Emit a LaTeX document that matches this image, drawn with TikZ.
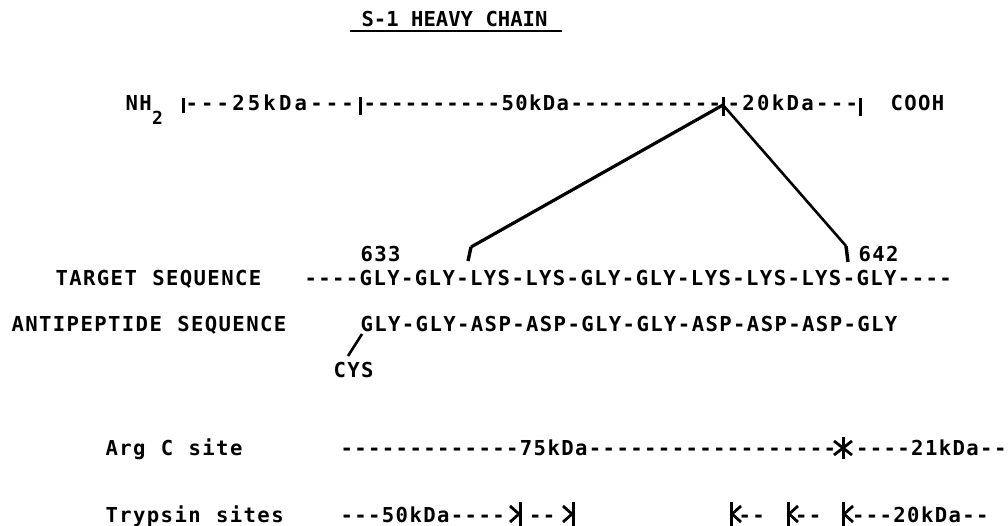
\documentclass[tikz,border=0pt]{standalone}
\usepackage{fontspec}
\newfontfamily\tw[LetterSpace=6.8,WordSpace={1.113,0,0},Ligatures=TeXOff]{DejaVu Sans Mono}
\newfontfamily\twa[LetterSpace=15.5,Ligatures=TeXOff]{DejaVu Sans Mono}
\newfontfamily\twc[LetterSpace=11.4,Ligatures=TeXOff]{DejaVu Sans Mono}
\newfontfamily\twt[Ligatures=TeXOff]{DejaVu Sans Mono}
\begin{document}
\begin{tikzpicture}[x=1pt,y=-1pt]
\tikzset{
  txt/.style={anchor=base west, inner sep=0pt, outer sep=0pt, font=\tw\fontsize{20.6}{24}\selectfont\bfseries},
  txta/.style={anchor=base west, inner sep=0pt, outer sep=0pt, font=\twa\fontsize{20.6}{24}\selectfont\bfseries},
  txtc/.style={anchor=base west, inner sep=0pt, outer sep=0pt, font=\twc\fontsize{20.6}{24}\selectfont\bfseries},
  subtxt/.style={anchor=base west, inner sep=0pt, outer sep=0pt, font=\tw\fontsize{18}{22}\selectfont\bfseries},
  titletxt/.style={anchor=base west, inner sep=0pt, outer sep=0pt, font=\twt\fontsize{20.6}{24}\selectfont\bfseries},
  tickmark/.style={line width=3pt},
  link/.style={line width=3.2pt, line join=round},
  linkb/.style={line width=2.6pt, line join=round},
  hook/.style={line width=3.4pt},
  arrowmark/.style={line width=2.8pt, line join=miter},
}
\useasboundingbox (0,0) rectangle (1008,526);
\fill[white] (0,0) rectangle (1008,526);

% title
\node[titletxt] (title) at (361.5,27) {S-1 HEAVY CHAIN};
\draw[line width=2pt] (350,31) -- (562,31);

% top row
\node[txt] (nh) at (125.5,111) {NH};
\node[subtxt] (two) at (152,125) {2};
\node[txta] (s25) at (185.5,111) {---25kDa---};
\node[txt] (s50) at (363.5,111) {----------50kDa-----------};
\node[txtc] (s20) at (727.5,111) {-20kDa---};
\node[txt] (cooh) at (890.5,111) {COOH};
\coordinate (n0) at (183,105);
\coordinate (n1) at (360,105);
\coordinate (apex) at (723,105);
\coordinate (n3) at (860,105);
\draw[tickmark] (183,98) -- (183,113);
\draw[tickmark] (360,97) -- (360,115);
\draw[tickmark] (723,97) -- (723,116);
\draw[tickmark] (860,98) -- (860,116);

% brackets to sequence
\coordinate (lend) at (471,247);
\coordinate (lfoot) at (468,261);
\coordinate (rend) at (846,246);
\coordinate (rfoot) at (848,262);
\draw[link] (apex) -- (lend);
\draw[hook] (lend) -- (lfoot);
\draw[linkb] (apex) -- (rend);
\draw[hook] (rend) -- (rfoot);

% sequences
\node[txt] (n633) at (360.5,262) {633};
\node[txt] (n642) at (858.5,262) {642};
\node[txt] (tlab) at (55.5,286) {TARGET SEQUENCE};
\node[txt] (tseq) at (304.5,286) {----GLY-GLY-LYS-LYS-GLY-GLY-LYS-LYS-LYS-GLY----};
\node[txt] (alab) at (11.5,331) {ANTIPEPTIDE SEQUENCE};
\node[txt] (aseq) at (360.5,331) {GLY-GLY-ASP-ASP-GLY-GLY-ASP-ASP-ASP-GLY};
\node[txt] (cys) at (333.5,377) {CYS};
\coordinate (cysa) at (362,334);
\coordinate (cysb) at (348,356);
\draw[line width=2.6pt] (cysa) -- (cysb);

% Arg C row
\node[txt] (arglab) at (105.5,455) {Arg C site};
\node[txt] (arg1) at (340.5,455) {-------------75kDa------------------};
\node[txt] (arg2) at (856,455) {----21kDa--};
\coordinate (ast) at (843,448);
\draw[line width=3pt] (843,437) -- (843,459);
\draw[line width=2.8pt] (834,441) -- (852,455);
\draw[line width=2.8pt] (834,455) -- (852,441);

% Trypsin row
\node[txt] (trlab) at (105.5,522) {Trypsin sites};
\node[txt] (tr1) at (340.5,522) {---50kDa----};
\node[txt] (tr2) at (529,522) {--};
\node[txt] (tr3) at (738.5,522) {--};
\node[txt] (tr4) at (795,522) {--};
\node[txt] (tr5) at (852,522) {---20kDa--};
% right-pointing arrows
\foreach \xx in {520,573}{
  \draw[tickmark] (\xx,502) -- (\xx,526);
  \draw[arrowmark] (\xx-10,506) -- (\xx-1,514) -- (\xx-10,522);
}
% left-pointing arrows
\foreach \xx in {731,788,843}{
  \draw[tickmark] (\xx,502) -- (\xx,526);
  \draw[arrowmark] (\xx+10,506) -- (\xx+1,514) -- (\xx+10,522);
}
\end{tikzpicture}
\end{document}
